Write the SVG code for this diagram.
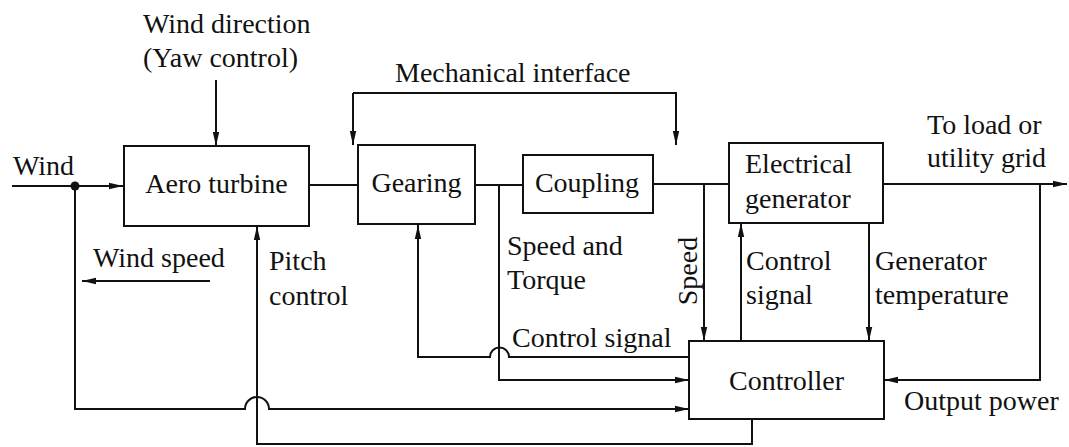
<svg xmlns="http://www.w3.org/2000/svg" width="1069" height="447" viewBox="0 0 1069 447">
<style>
.box{fill:#fff;stroke:#111;stroke-width:2}
.ln{fill:none;stroke:#111;stroke-width:2}
.ar{marker-end:url(#ah)}
text{font-family:"Liberation Serif","Times New Roman",serif;font-size:28px;fill:#111}
.c{text-anchor:middle}
</style>
<defs>
<marker id="ah" markerUnits="userSpaceOnUse" viewBox="0 0 14 8" refX="14" refY="4" markerWidth="14" markerHeight="8" orient="auto">
<path d="M0,0.8 L14,4 L0,7.2 Z" fill="#111"/>
</marker>
</defs>
<rect width="1069" height="447" fill="#fff"/>
<g id="connectors">
<path class="ln ar" d="M12,186 H123"/>
<path class="ln ar" d="M216,80 V146"/>
<path class="ln" d="M309,185 H358"/>
<path class="ln" d="M475,185 H523"/>
<path class="ln" d="M653,184 H729"/>
<path class="ln ar" d="M883,184 H1067"/>
<path class="ln ar" d="M353,93 V145"/>
<path class="ln ar" d="M353,93 H676 V145"/>
<path class="ln ar" d="M210,281 H82"/>
<path class="ln ar" d="M75,186 V409 H245 A12,12 0 0 1 269,409 H689"/>
<path class="ln ar" d="M752,419 V444 H257 V226"/>
<path class="ln ar" d="M689,357 H509 A9.5,9.5 0 0 0 490,357 H418 V225"/>
<path class="ln ar" d="M499,185 V380 H689"/>
<path class="ln ar" d="M704,184 V341"/>
<path class="ln ar" d="M741,341 V223"/>
<path class="ln ar" d="M869,223 V341"/>
<path class="ln ar" d="M1040,184 V380 H884"/>
<circle cx="75" cy="186" r="4.5" fill="#111"/>
</g>
<g id="aero-turbine">
<rect class="box" x="124" y="146" width="185" height="80"/>
<text class="c" x="216.5" y="193">Aero turbine</text>
</g>
<g id="gearing">
<rect class="box" x="358" y="145" width="117" height="79"/>
<text class="c" x="416.5" y="192">Gearing</text>
</g>
<g id="coupling">
<rect class="box" x="523" y="155" width="130" height="58"/>
<text class="c" x="587" y="192">Coupling</text>
</g>
<g id="electrical-generator">
<rect class="box" x="729" y="143" width="154" height="80"/>
<text x="745" y="173">Electrical</text>
<text x="745" y="208">generator</text>
</g>
<g id="controller">
<rect class="box" x="689" y="341" width="195" height="78"/>
<text class="c" x="786.5" y="390">Controller</text>
</g>
<g id="labels">
<text x="143" y="33">Wind direction</text>
<text x="143" y="67">(Yaw control)</text>
<text x="395" y="82">Mechanical interface</text>
<text x="13" y="175">Wind</text>
<text x="927" y="134">To load or</text>
<text x="927" y="167">utility grid</text>
<text x="93" y="267">Wind speed</text>
<text x="269" y="270">Pitch</text>
<text x="269" y="305">control</text>
<text x="507" y="255">Speed and</text>
<text x="507" y="289">Torque</text>
<text x="512" y="347">Control signal</text>
<text class="c" transform="translate(697,271) rotate(-90)">Speed</text>
<text x="746" y="270">Control</text>
<text x="746" y="304">signal</text>
<text x="875" y="270">Generator</text>
<text x="875" y="304">temperature</text>
<text x="904" y="410">Output power</text>
</g>
</svg>
